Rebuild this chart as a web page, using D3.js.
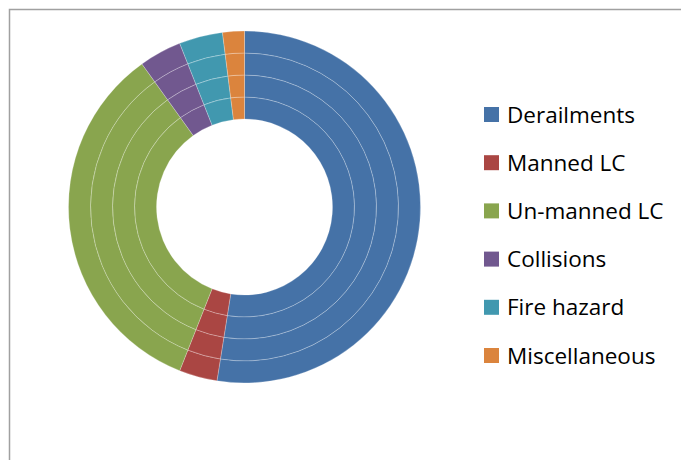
<!DOCTYPE html>
<html>
<head>
<meta charset="utf-8">
<script src="https://cdn.jsdelivr.net/npm/d3@7/dist/d3.min.js"></script>
<style>
  html, body { margin: 0; padding: 0; background: #fff; }
  svg { display: block; }
</style>
</head>
<body>
<svg id="chart" width="681" height="460"></svg>
<script>
// Causes of train accidents, share of total (%)
const categories = ["Derailments", "Manned LC", "Un-manned LC", "Collisions", "Fire hazard", "Miscellaneous"];
// Four concentric rings, one series each
const ring1 = [52.5, 3.5, 34.1, 3.9, 4.0, 2.0];
const ring2 = [52.5, 3.5, 34.1, 3.9, 4.0, 2.0];
const ring3 = [52.5, 3.5, 34.1, 3.9, 4.0, 2.0];
const ring4 = [52.5, 3.5, 34.1, 3.9, 4.0, 2.0];
const rings = [ring1, ring2, ring3, ring4]; // innermost first
const colors = ["#4572A7", "#AA4643", "#89A54E", "#71588F", "#4198AF", "#DB843D"];

const svg = d3.select("#chart");
const W = 681, H = 460;

// chart frame
svg.append("rect")
  .attr("x", 9.5).attr("y", 9.5)
  .attr("width", W + 20).attr("height", H + 20)
  .attr("fill", "#fff")
  .attr("stroke", "#a0a0a0")
  .attr("stroke-width", 1.5);

const cx = 244.5, cy = 207;
const innerR = 88, outerR = 176;

const color = d3.scaleOrdinal().domain(categories).range(colors);
const radius = d3.scaleBand().domain(d3.range(rings.length)).range([innerR, outerR]).paddingInner(0);

const pie = d3.pie().sort(null).value(d => d.value);

const g = svg.append("g").attr("transform", `translate(${cx},${cy})`);

rings.forEach((vals, i) => {
  const data = pie(vals.map((v, k) => ({ name: categories[k], value: v })));
  const arc = d3.arc()
    .innerRadius(radius(i))
    .outerRadius(radius(i) + radius.bandwidth());
  g.append("g").selectAll("path")
    .data(data)
    .join("path")
    .attr("d", arc)
    .attr("fill", d => color(d.data.name))
    .attr("stroke", "rgba(255,255,255,0.4)")
    .attr("stroke-width", 0.6);
});

// legend
const legend = svg.append("g");
const legendY = d3.scalePoint().domain(categories).range([122.5, 363.5]);
categories.forEach(c => {
  const y = legendY(c);
  legend.append("rect")
    .attr("x", 484).attr("y", y - 15.5)
    .attr("width", 15).attr("height", 15)
    .attr("fill", color(c));
  legend.append("text")
    .attr("x", 507).attr("y", y)
    .attr("font-family", "'Open Sans', sans-serif")
    .attr("font-size", 22.5)
    .attr("fill", "#000")
    .text(c);
});
</script>
</body>
</html>
